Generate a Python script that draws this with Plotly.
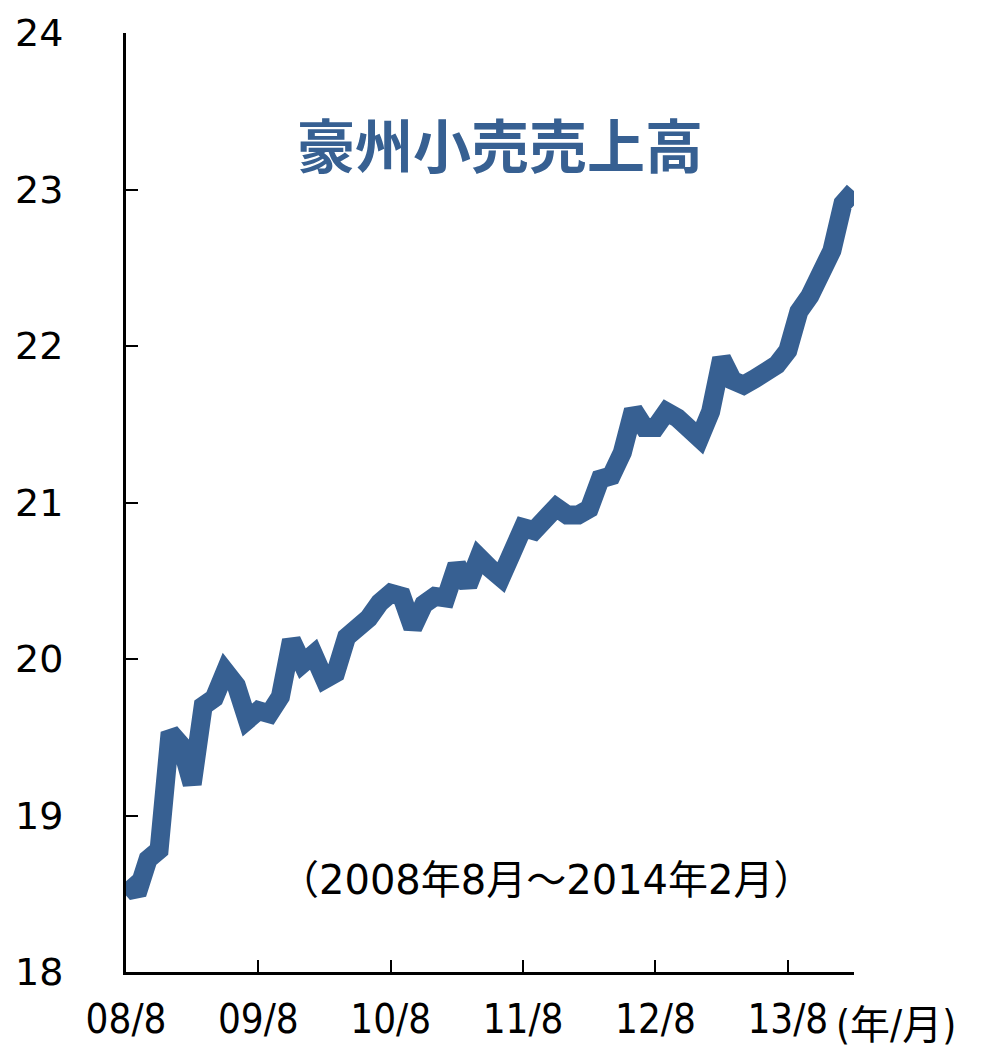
import plotly.graph_objects as go

# monthly labels 08/8 .. 14/2
months = []
for yr in range(8, 15):
    for mo in range(1, 13):
        if (yr == 8 and mo < 8) or (yr == 14 and mo > 2):
            continue
        months.append(f"{yr:02d}/{mo}")

# Australian retail sales, AUD bn
sales = [18.58, 18.50, 18.72, 18.78, 19.53, 19.45, 19.20, 19.70, 19.75, 19.92,
         19.83, 19.61, 19.67, 19.65, 19.76, 20.12, 19.97, 20.03, 19.87, 19.91,
         20.14, 20.19, 20.26, 20.36, 20.42, 20.40, 20.20, 20.35, 20.40, 20.39,
         20.60, 20.47, 20.65, 20.58, 20.52, 20.68, 20.84, 20.82, 20.91, 20.97,
         20.92, 20.92, 20.96, 21.15, 21.17, 21.32, 21.59, 21.48, 21.48, 21.58,
         21.54, 21.48, 21.41, 21.58, 21.92, 21.78, 21.75, 21.79, 21.83, 21.88,
         21.97, 22.22, 22.32, 22.44, 22.61, 22.91, 22.99]

x_ticks = ["08/8", "09/8", "10/8", "11/8", "12/8", "13/8"]
y_ticks = [18, 19, 20, 21, 22, 23, 24]

title_text = "豪州小売売上高"
period_text = "（2008年8月～2014年2月）"
xunit_text = "(年/月)"

BLUE = "#376092"
FONT = "DejaVu Sans, Noto Sans CJK JP, sans-serif"
FONT_NARROW = "DejaVu Sans Condensed, Liberation Sans Narrow, DejaVu Sans, Noto Sans CJK JP, sans-serif"

fig = go.Figure()
fig.add_trace(go.Scatter(
    x=months, y=sales, mode="lines",
    line=dict(color=BLUE, width=19),
    hoverinfo="skip", showlegend=False,
))

fig.update_xaxes(
    type="category", range=[0, len(months) - 1], automargin=False,
    tickmode="array", tickvals=x_ticks, ticktext=x_ticks,
    ticks="inside", ticklen=12, tickwidth=2, tickcolor="black",
    showline=True, linewidth=3, linecolor="black",
    showgrid=False, zeroline=False,
    tickfont=dict(family=FONT_NARROW, size=40, color="black"),
    ticklabelstandoff=10,
)
fig.update_yaxes(
    range=[18, 24], tickmode="array", tickvals=y_ticks, automargin=False,
    ticks="inside", ticklen=12, tickwidth=2, tickcolor="black",
    showline=True, linewidth=3, linecolor="black",
    showgrid=False, zeroline=False,
    tickfont=dict(family=FONT, size=38, color="black"),
    ticklabelstandoff=52,
)

fig.add_annotation(text=title_text, xref="paper", yref="paper",
                   x=0.514, y=0.883, xanchor="center", yanchor="middle", showarrow=False,
                   font=dict(family="Noto Sans CJK JP", size=58, color=BLUE, weight="bold"))
fig.add_annotation(text=period_text, xref="paper", yref="paper",
                   x=0.577, y=0.098, xanchor="center", yanchor="middle", showarrow=False,
                   font=dict(family=FONT, size=40, color="black"))
fig.add_annotation(text=xunit_text, xref="paper", yref="paper",
                   x=0.9725, y=-0.056, xanchor="left", yanchor="middle", showarrow=False,
                   font=dict(family=FONT_NARROW, size=40, color="black"))

# page body keeps an 8px margin, so the figure is 16px smaller than the window
fig.update_layout(
    width=966, height=1039,
    margin=dict(l=118, r=120, t=25, b=75),
    plot_bgcolor="white", paper_bgcolor="white",
)

fig.write_html("out.html")
